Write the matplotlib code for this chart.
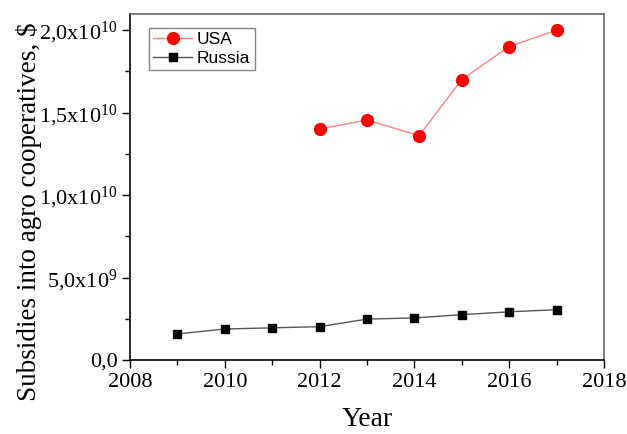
import matplotlib
matplotlib.use("Agg")
from matplotlib import pyplot as plt
from matplotlib.ticker import AutoMinorLocator

plt.rcParams['font.family'] = ['Liberation Serif', 'DejaVu Serif']
plt.rcParams['mathtext.fontset'] = 'custom'
plt.rcParams['mathtext.rm'] = 'Liberation Serif'
plt.rcParams['mathtext.it'] = 'Liberation Serif:italic'

# data
usa_years = [2012, 2013, 2014.1, 2015, 2016, 2017]
usa_values = [1.40e10, 1.455e10, 1.36e10, 1.70e10, 1.90e10, 2.0e10]

russia_years = [2009, 2010, 2011, 2012, 2013, 2014, 2015, 2016, 2017]
russia_values = [1.58e9, 1.88e9, 1.95e9, 2.02e9, 2.48e9, 2.55e9, 2.75e9, 2.92e9, 3.05e9]

x_ticks = [2008, 2010, 2012, 2014, 2016, 2018]
y_ticks = [0, 5e9, 1e10, 1.5e10, 2e10]
y_tick_labels = ['0,0', '5,0x10$^{9}$', '1,0x10$^{10}$', '1,5x10$^{10}$', '2,0x10$^{10}$']

fig = plt.figure(figsize=(6.27, 4.34), dpi=100)
ax = fig.add_axes([0.2073, 0.1705, 0.756, 0.797])

ax.plot(usa_years, usa_values, color='#ff8080', lw=1.0, marker='o', markersize=8.5,
        markerfacecolor='#ff0000', markeredgecolor='#ff0000', label='USA')
ax.plot(russia_years, russia_values, color='#555555', lw=1.0, marker='s', markersize=5.8,
        markerfacecolor='black', markeredgecolor='black', label='Russia')

ax.set_xlim(2008, 2018)
ax.set_ylim(0, 2.097e10)
ax.set_xticks(x_ticks)
ax.set_xticklabels([str(t) for t in x_ticks])
ax.set_yticks(y_ticks)
ax.set_yticklabels(y_tick_labels)
ax.xaxis.set_minor_locator(AutoMinorLocator(2))
ax.yaxis.set_minor_locator(AutoMinorLocator(2))
ax.tick_params(which='major', direction='out', length=6, width=1, labelsize=16, pad=3)
ax.tick_params(which='minor', direction='out', length=3.5, width=1)
ax.tick_params(top=False, right=False, which='both')

for side in ['left', 'bottom']:
    ax.spines[side].set_color('black')
    ax.spines[side].set_linewidth(1.2)
for side in ['top', 'right']:
    ax.spines[side].set_color('#666666')
    ax.spines[side].set_linewidth(1.2)

ax.set_xlabel('Year', fontsize=20, labelpad=11)
ax.set_ylabel('Subsidies into agro cooperatives, $', fontsize=19.5)
ax.yaxis.set_label_coords(-0.185, 0.43)

leg = ax.legend(loc='upper left', prop={'family': 'Liberation Sans', 'size': 12.5},
                frameon=True, fancybox=False, edgecolor='#666666', borderpad=0.25,
                handlelength=2.2, handletextpad=0.3, labelspacing=0.2,
                bbox_to_anchor=(0.022, 0.985))
leg.get_frame().set_linewidth(1.0)

fig.savefig('out.png', dpi=100)
